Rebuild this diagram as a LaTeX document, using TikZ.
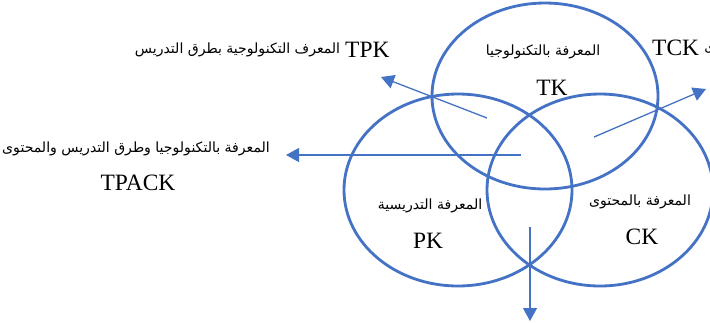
\documentclass[tikz,border=0pt]{standalone}
\usepackage{fontspec}
\setmainfont{Liberation Serif}
\newfontfamily\arabicfont[Script=Arabic]{DejaVu Sans}
\TeXXeTstate=1
\usepackage{tikz}
\usetikzlibrary{arrows.meta}
\definecolor{vennblue}{RGB}{68,114,196}

\begin{document}
\begin{tikzpicture}[
  x=0.03cm, y=-0.03cm,
  ring/.style={draw=vennblue, line width=2.4pt},
  ar/.style={font=\arabicfont\fontsize{12}{14}\selectfont, inner sep=0pt},
  abbr/.style={font=\fontsize{20}{24}\selectfont, inner sep=0pt},
  pointer/.style={-{Triangle[length=3.9mm, width=4.2mm]}, draw=vennblue, fill=vennblue, line width=1.1pt}
]
\useasboundingbox (0,0) rectangle (710,322);
% --- circles ---
\draw[ring] (545,96) ellipse [x radius=113, y radius=93];
\draw[ring] (458,190) ellipse [x radius=114, y radius=96];
\draw[ring] (600,190) ellipse [x radius=113, y radius=96];
% --- labels inside ---
\node[ar] (tkar) at (543,52) {\beginR المعرفة بالتكنولوجيا\endR};
\node[abbr] (tk) at (552,88) {TK};
\node[ar] (pkar) at (430,206) {\beginR المعرفة التدريسية\endR};
\node[abbr] (pk) at (428,241) {PK};
\node[ar] (ckar) at (640,202) {\beginR المعرفة بالمحتوى\endR};
\node[abbr] (ck) at (642,237) {CK};
% --- labels outside ---
\node[abbr, anchor=west] (tpk) at (345,50) {TPK};
\node[ar, anchor=east] (tpkar) at ([xshift=-4]tpk.west) {\beginR المعرف التكنولوجية بطرق التدريس\endR};
\node[ar] (tpackar) at (136,149) {\beginR المعرفة بالتكنولوجيا وطرق التدريس والمحتوى\endR};
\node[abbr] (tpack) at (138,183) {TPACK};
\node[abbr, anchor=west] (tck) at (652,48) {TCK};
\node[ar, anchor=west] (tckar) at ([xshift=4]tck.east) {\beginR المعرفة التكنولوجية بالمحتوى\endR};
% --- arrows ---
\coordinate (tpkfrom) at (487,118);
\coordinate (tpkto) at (381,77);
\coordinate (tpackfrom) at (521,155);
\coordinate (tpackto) at (286,155);
\coordinate (tckfrom) at (594,137);
\coordinate (tckto) at (706,89);
\coordinate (downfrom) at (530,227);
\coordinate (downto) at (530,321);
\draw[pointer] (tpkfrom) -- (tpkto);
\draw[pointer] (tpackfrom) -- (tpackto);
\draw[pointer] (tckfrom) -- (tckto);
\draw[pointer] (downfrom) -- (downto);
\end{tikzpicture}
\end{document}
